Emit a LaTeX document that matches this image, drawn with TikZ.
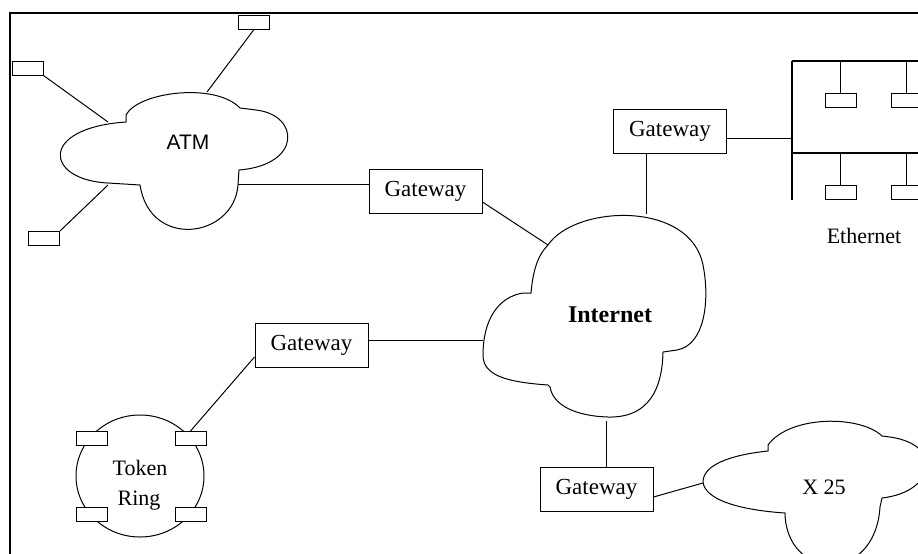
\documentclass[tikz,border=0pt]{standalone}
\usepackage{fontspec}
\setmainfont{Liberation Serif}
\newfontfamily\arialf{Liberation Sans}
\begin{document}
\begin{tikzpicture}[x=1pt,y=-1pt,
  gw/.style={draw,line width=1pt,minimum width=113pt,minimum height=44pt,inner sep=0pt,font=\fontsize{23}{25}\selectfont},
  dev/.style={draw,fill=white,line width=1pt,minimum width=31pt,minimum height=14pt,inner sep=0pt},
  lnk/.style={line width=1pt},
  cloudline/.style={line width=1pt},
  bus/.style={line width=1.3pt},
  lbl/.style={inner sep=0pt,anchor=base,font=\fontsize{22}{24}\selectfont}]
\useasboundingbox (0,0) rectangle (918,554);
\begin{scope}
\clip (0,0) rectangle (918,554);
% frame
\draw[line width=1.5pt] (10,570) -- (10,13) -- (930,13);

% ATM cloud
\draw[cloudline] (126,115) .. controls (138,92) and (215,82) .. (240,108) -- (256,110)
  .. controls (300,115) and (302,165) .. (239,170) -- (238,185)
  .. controls (234,238) and (150,250) .. (140,185) -- (108,183)
  .. controls (45,180) and (38,128) .. (126,122) -- cycle;
\coordinate (atmTop) at (207,92);
\coordinate (atmLeft) at (108,122);
\coordinate (atmLow) at (108,185);
\coordinate (atmRight) at (238,184);
\node[lbl,font=\arialf\fontsize{21}{24}\selectfont] (atmlbl) at (188,149) {ATM};

% Internet cloud
\draw[cloudline] (548,245) .. controls (575,205) and (690,200) .. (703,265)
  .. controls (710,300) and (705,345) .. (677,350) -- (663,352)
  .. controls (662,400) and (640,418) .. (608,417)
  .. controls (575,416) and (553,405) .. (550,387) -- (548,385)
  .. controls (505,382) and (483,375) .. (483,355)
  .. controls (483,320) and (498,297) .. (523,293) -- (531,293)
  .. controls (533,270) and (538,255) .. (548,245) -- cycle;
\coordinate (inetA) at (548,245);
\coordinate (inetB) at (646,214);
\coordinate (inetC) at (483,340);
\coordinate (inetD) at (606,421);
\node[lbl,font=\bfseries\fontsize{24}{26}\selectfont] (inetlbl) at (610,322) {Internet};

% X.25 cloud
\draw[cloudline] (768,451) .. controls (730,455) and (703,465) .. (703,482)
  .. controls (705,500) and (740,510) .. (785,513)
  .. controls (786,580) and (875,585) .. (880,507) -- (882,498)
  .. controls (935,492) and (945,445) .. (890,437) -- (882,436)
  .. controls (860,415) and (790,415) .. (768,445) -- cycle;
\coordinate (xA) at (703,483);
\node[lbl] (xlbl) at (824,494) {X 25};

% Token ring
\draw[cloudline] (140,476) ellipse [x radius=64, y radius=61];
\node[dev] (t1) at (92,438.5) {};
\node[dev] (t2) at (190.5,438.5) {};
\node[dev] (t3) at (92,514.5) {};
\node[dev] (t4) at (190.5,514.5) {};
\node[lbl] (tok) at (140,475) {Token};
\node[lbl] (ring) at (139,505) {Ring};

% ATM devices
\node[dev] (a1) at (254,22) {};
\node[dev] (a2) at (27.5,68) {};
\node[dev] (a3) at (44,238.5) {};
\draw[lnk] (a1.south) -- (atmTop);
\draw[lnk] (a2.south east) -- (atmLeft);
\draw[lnk] (a3.north east) -- (atmLow);

% Gateways
\node[gw] (g1) at (425.5,191) {Gateway};
\node[gw] (g2) at (670,131) {Gateway};
\node[gw] (g4) at (311.5,345) {Gateway};
\node[gw] (g3) at (596.5,489.5) {Gateway};

% Ethernet
\coordinate (busTop) at (792,61);
\coordinate (busBot) at (792,200);
\coordinate (busMid) at (792,153);
\coordinate (busG) at (792,138);
\coordinate (busTR) at (930,61);
\coordinate (busMR) at (930,153);
\draw[bus] (busTop) -- (busBot);
\draw[bus] (busTop) -- (busTR);
\draw[bus] (busMid) -- (busMR);
\node[dev] (e1) at (840.5,100) {};
\node[dev] (e2) at (906.5,100) {};
\node[dev] (e3) at (840.5,192) {};
\node[dev] (e4) at (906.5,192) {};
\draw[bus] (e1.north) -- (e1.north |- busTop);
\draw[bus] (e2.north) -- (e2.north |- busTop);
\draw[bus] (e3.north) -- (e3.north |- busMid);
\draw[bus] (e4.north) -- (e4.north |- busMid);
\node[lbl] (eth) at (864,243) {Ethernet};

% connectors
\draw[lnk] (atmRight) -- (g1.west |- atmRight);
\draw[lnk] ([yshift=-11pt]g1.east) -- (inetA);
\draw[lnk] (g2.south -| inetB) -- (inetB);
\draw[lnk] (g2.east |- busG) -- (busG);
\draw[lnk] (g4.east |- inetC) -- (inetC);
\draw[lnk] ([yshift=-12pt]g4.west) -- (t2.north);
\draw[lnk] (inetD) -- (g3.north -| inetD);
\draw[lnk] ([yshift=-7.5pt]g3.east) -- (xA);
\end{scope}
\end{tikzpicture}
\end{document}
